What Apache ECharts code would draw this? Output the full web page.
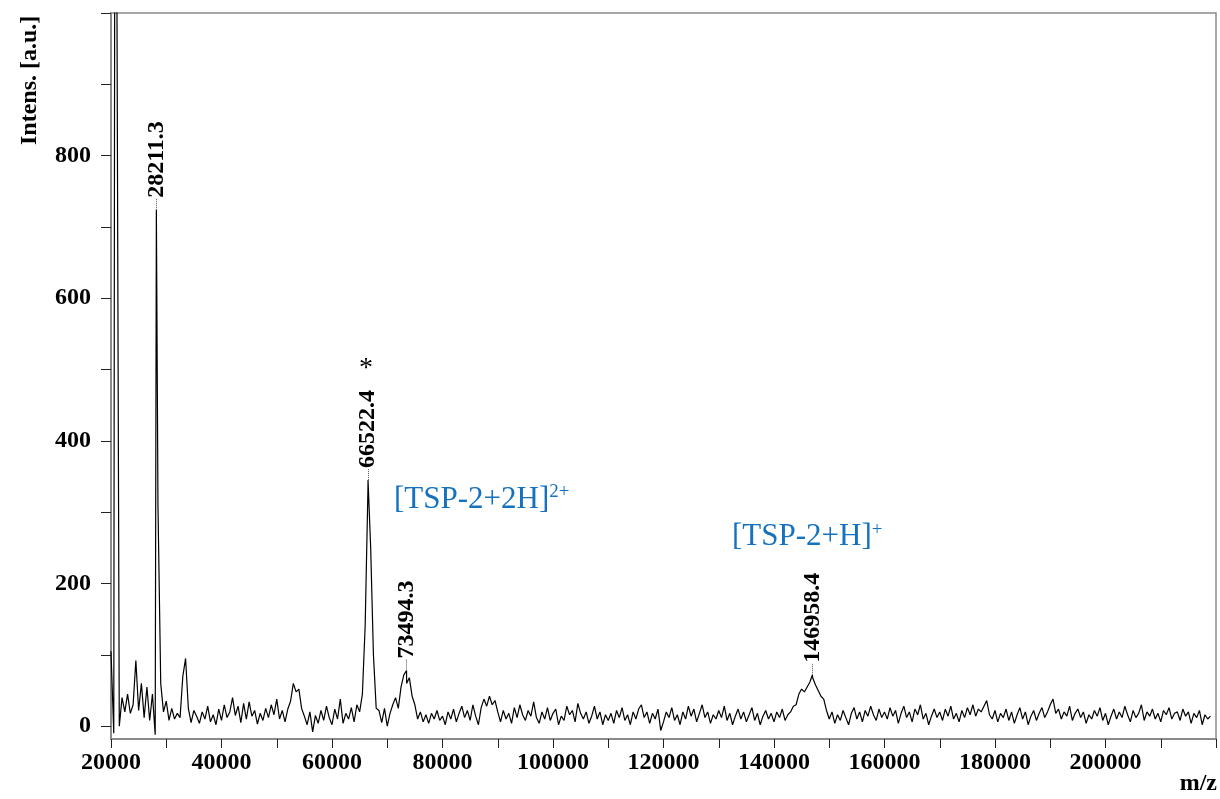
<!DOCTYPE html>
<html>
<head>
<meta charset="utf-8">
<script src="https://cdn.jsdelivr.net/npm/echarts@6/dist/echarts.min.js"></script>
<style>
  html, body { margin: 0; padding: 0; background: #fff; }
  #main { width: 1220px; height: 799px; }
</style>
</head>
<body>
<div id="main"></div>
<script>
const gridStart = 20000;
const gridStep = 500;
const intensity = [
  105, -10, 1200, 0, 40, 20, 45, 18, 30, 92, 22, 60, 12, 55, 8, 45, -12, 310, 60, 20,
  35, 8, 25, 10, 18, 12, 70, 95, 25, 5, 22, 14, 4, 20, 10, 28, 6, 16, 2, 24,
  8, 30, 12, 20, 40, 15, 28, 5, 32, 10, 34, 14, 22, 3, 18, 8, 25, 12, 30, 16,
  38, 10, 22, 6, 24, 35, 60, 48, 52, 25, 14, 2, 20, -8, 15, 4, 22, 8, 28, 12,
  2, 24, 10, 38, 4, 18, 10, 26, 6, 30, 20, 45, 140, 330, 250, 100, 25, 22, 5, 25,
  0, 18, 30, 40, 25, 55, 72, 60, 68, 42, 30, 10, 20, 6, 16, 4, 18, 10, 22, 8,
  14, 2, 20, 10, 24, 6, 18, 28, 12, 22, 8, 30, 14, 2, 26, 38, 28, 42, 30, 36,
  20, 6, 22, 10, 18, 4, 26, 12, 30, 16, 8, 22, 14, 34, 12, 4, 20, 10, 26, 8,
  18, 24, 2, 14, 8, 28, 16, 22, 6, 32, 18, 10, 20, 4, 14, 28, 10, 20, 2, 16,
  8, 18, 4, 22, 12, 26, 8, 16, 2, 20, 10, 24, 30, 12, 20, 4, 18, 10, 24, -6,
  6, 20, 12, 26, 8, 16, 2, 20, 10, 28, 14, 24, 6, 18, 30, 12, 20, 4, 16, 10,
  22, 12, 28, 8, 18, 2, 14, 24, 10, 20, 6, 16, 26, 8, 18, 2, 14, 22, 10, 18,
  6, 20, 12, 24, 8, 16, 20, 28, 30, 45, 52, 48, 55, 62, 68, 58, 50, 42, 38, 22,
  10, 20, 4, 16, 8, 22, 12, 2, 18, 26, 10, 20, 6, 22, 14, 28, 16, 8, 24, 12,
  20, 10, 26, 14, 22, 4, 18, 28, 12, 20, 6, 24, 16, 30, 10, 18, 2, 14, 24, 12,
  20, 8, 24, 14, 28, 10, 18, 6, 22, 12, 26, 16, 30, 14, 24, 20, 28, 36, 16, 10,
  22, 6, 18, 12, 24, 8, 20, 4, 16, 26, 10, 20, 2, 14, 22, 8, 18, 26, 12, 20,
  30, 38, 18, 24, 10, 20, 14, 28, 8, 18, 24, 12, 20, 4, 16, 10, 22, 14, 26, 8,
  18, 2, 14, 24, 10, 20, 12, 28, 16, 6, 22, 12, 18, 30, 8, 20, 14, 24, 10, 18,
  6, 22, 16, 26, 10, 18, 20, 8, 24, 14, 20, 4, 18, 12, 22, 2, 16, 10, 14
];

// peak apexes that fall between the 500 Da samples
const apexMz = [20700, 28211.3, 66522.4, 73494.3, 146958.4];
const apexIntens = [1250, 724, 345, 78, 72];

// labelled peaks
const peakMz = [28211.3, 66522.4, 73494.3, 146958.4];
const peakIntens = [724, 345, 78, 72];
const peakText = ['28211.3', '66522.4', '73494.3', '146958.4'];

const xTicks = [20000, 30000, 40000, 50000, 60000, 70000, 80000, 90000, 100000, 110000, 120000,
  130000, 140000, 150000, 160000, 170000, 180000, 190000, 200000, 210000, 220000];
const xLabels = [20000, 40000, 60000, 80000, 100000, 120000, 140000, 160000, 180000, 200000];
const yTicks = [0, 100, 200, 300, 400, 500, 600, 700, 800, 900, 1000];
const yLabels = [0, 200, 400, 600, 800];

const serif = '"Liberation Serif", "Times New Roman", serif';
const blue = '#1672bf';

let spectrum = intensity.map(function (v, i) {
  return [gridStart + i * gridStep, v];
});
apexMz.forEach(function (m, i) {
  spectrum.push([m, apexIntens[i]]);
});
spectrum.sort(function (a, b) { return a[0] - b[0]; });

const chart = echarts.init(document.getElementById('main'));

const option = {
  animation: false,
  backgroundColor: '#fff',
  grid: {
    left: 111, right: 4, top: 13, bottom: 60,
    show: true, borderColor: '#8a8a8a', borderWidth: 1.5
  },
  xAxis: {
    type: 'value',
    min: 20000,
    max: 220000,
    axisLine: { onZero: false, lineStyle: { color: '#8a8a8a', width: 2 } },
    axisTick: { customValues: xTicks, length: 9, lineStyle: { color: '#222' } },
    axisLabel: {
      customValues: xLabels, margin: 12,
      formatter: function (v) { return String(v); },
      fontFamily: serif, fontWeight: 'bold', fontSize: 24, color: '#000'
    },
    splitLine: { show: false }
  },
  yAxis: {
    type: 'value',
    min: -18,
    max: 1000,
    axisLine: { show: true, lineStyle: { color: '#8a8a8a', width: 2 } },
    axisTick: { show: true, customValues: yTicks, length: 10, lineStyle: { color: '#222' } },
    axisLabel: {
      customValues: yLabels, margin: 20,
      formatter: function (v) { return String(v); },
      fontFamily: serif, fontWeight: 'bold', fontSize: 24, color: '#000'
    },
    splitLine: { show: false }
  },
  graphic: [
    {
      type: 'text', x: 30, y: 145, rotation: Math.PI / 2,
      style: {
        text: 'Intens. [a.u.]', font: 'bold 24px ' + serif, fill: '#000',
        textAlign: 'left', textVerticalAlign: 'middle'
      }
    },
    {
      type: 'text', right: 3, top: 772,
      style: { text: 'm/z', font: 'bold 24px ' + serif, fill: '#000' }
    }
  ],
  series: [
    {
      name: 'spectrum',
      type: 'line',
      data: spectrum,
      showSymbol: false,
      silent: true,
      lineStyle: { color: '#000', width: 1.2 }
    },
    {
      name: 'peaks',
      type: 'scatter',
      symbolSize: 0,
      silent: true,
      itemStyle: { opacity: 1 },
      data: peakMz.map(function (m, i) { return [m, peakIntens[i], peakText[i]]; }),
      label: {
        show: true,
        position: 'top',
        distance: 12,
        rotate: 90,
        align: 'left',
        verticalAlign: 'middle',
        formatter: function (p) { return p.value[2]; },
        fontFamily: serif, fontWeight: 'bold', fontSize: 24, color: '#000', opacity: 1
      },
      markLine: {
        silent: true,
        symbol: 'none',
        label: { show: false },
        lineStyle: { color: '#555', type: 'dotted', width: 1 },
        data: peakMz.map(function (m, i) {
          return [{ coord: [m, peakIntens[i]] }, { coord: [m, peakIntens[i] + 17] }];
        })
      }
    },
    {
      name: 'notes',
      type: 'scatter',
      symbolSize: 0,
      silent: true,
      itemStyle: { opacity: 1 },
      data: [
        {
          value: [66150, 502],
          label: {
            show: true, position: 'inside', align: 'center', verticalAlign: 'middle',
            formatter: '*', fontFamily: serif, fontSize: 28, color: '#000', opacity: 1
          }
        },
        {
          value: [71220, 318],
          label: {
            show: true, position: 'inside', align: 'left', verticalAlign: 'middle', opacity: 1,
            formatter: '{a|[TSP-2+2H]}{b|2+}',
            rich: {
              a: { fontFamily: serif, fontSize: 31, color: blue, lineHeight: 34 },
              b: { fontFamily: serif, fontSize: 19, color: blue, verticalAlign: 'top', lineHeight: 34 }
            }
          }
        },
        {
          value: [132400, 265],
          label: {
            show: true, position: 'inside', align: 'left', verticalAlign: 'middle', opacity: 1,
            formatter: '{a|[TSP-2+H]}{b|+}',
            rich: {
              a: { fontFamily: serif, fontSize: 31, color: blue, lineHeight: 34 },
              b: { fontFamily: serif, fontSize: 19, color: blue, verticalAlign: 'top', lineHeight: 34 }
            }
          }
        }
      ]
    }
  ]
};

chart.setOption(option);
</script>
</body>
</html>
